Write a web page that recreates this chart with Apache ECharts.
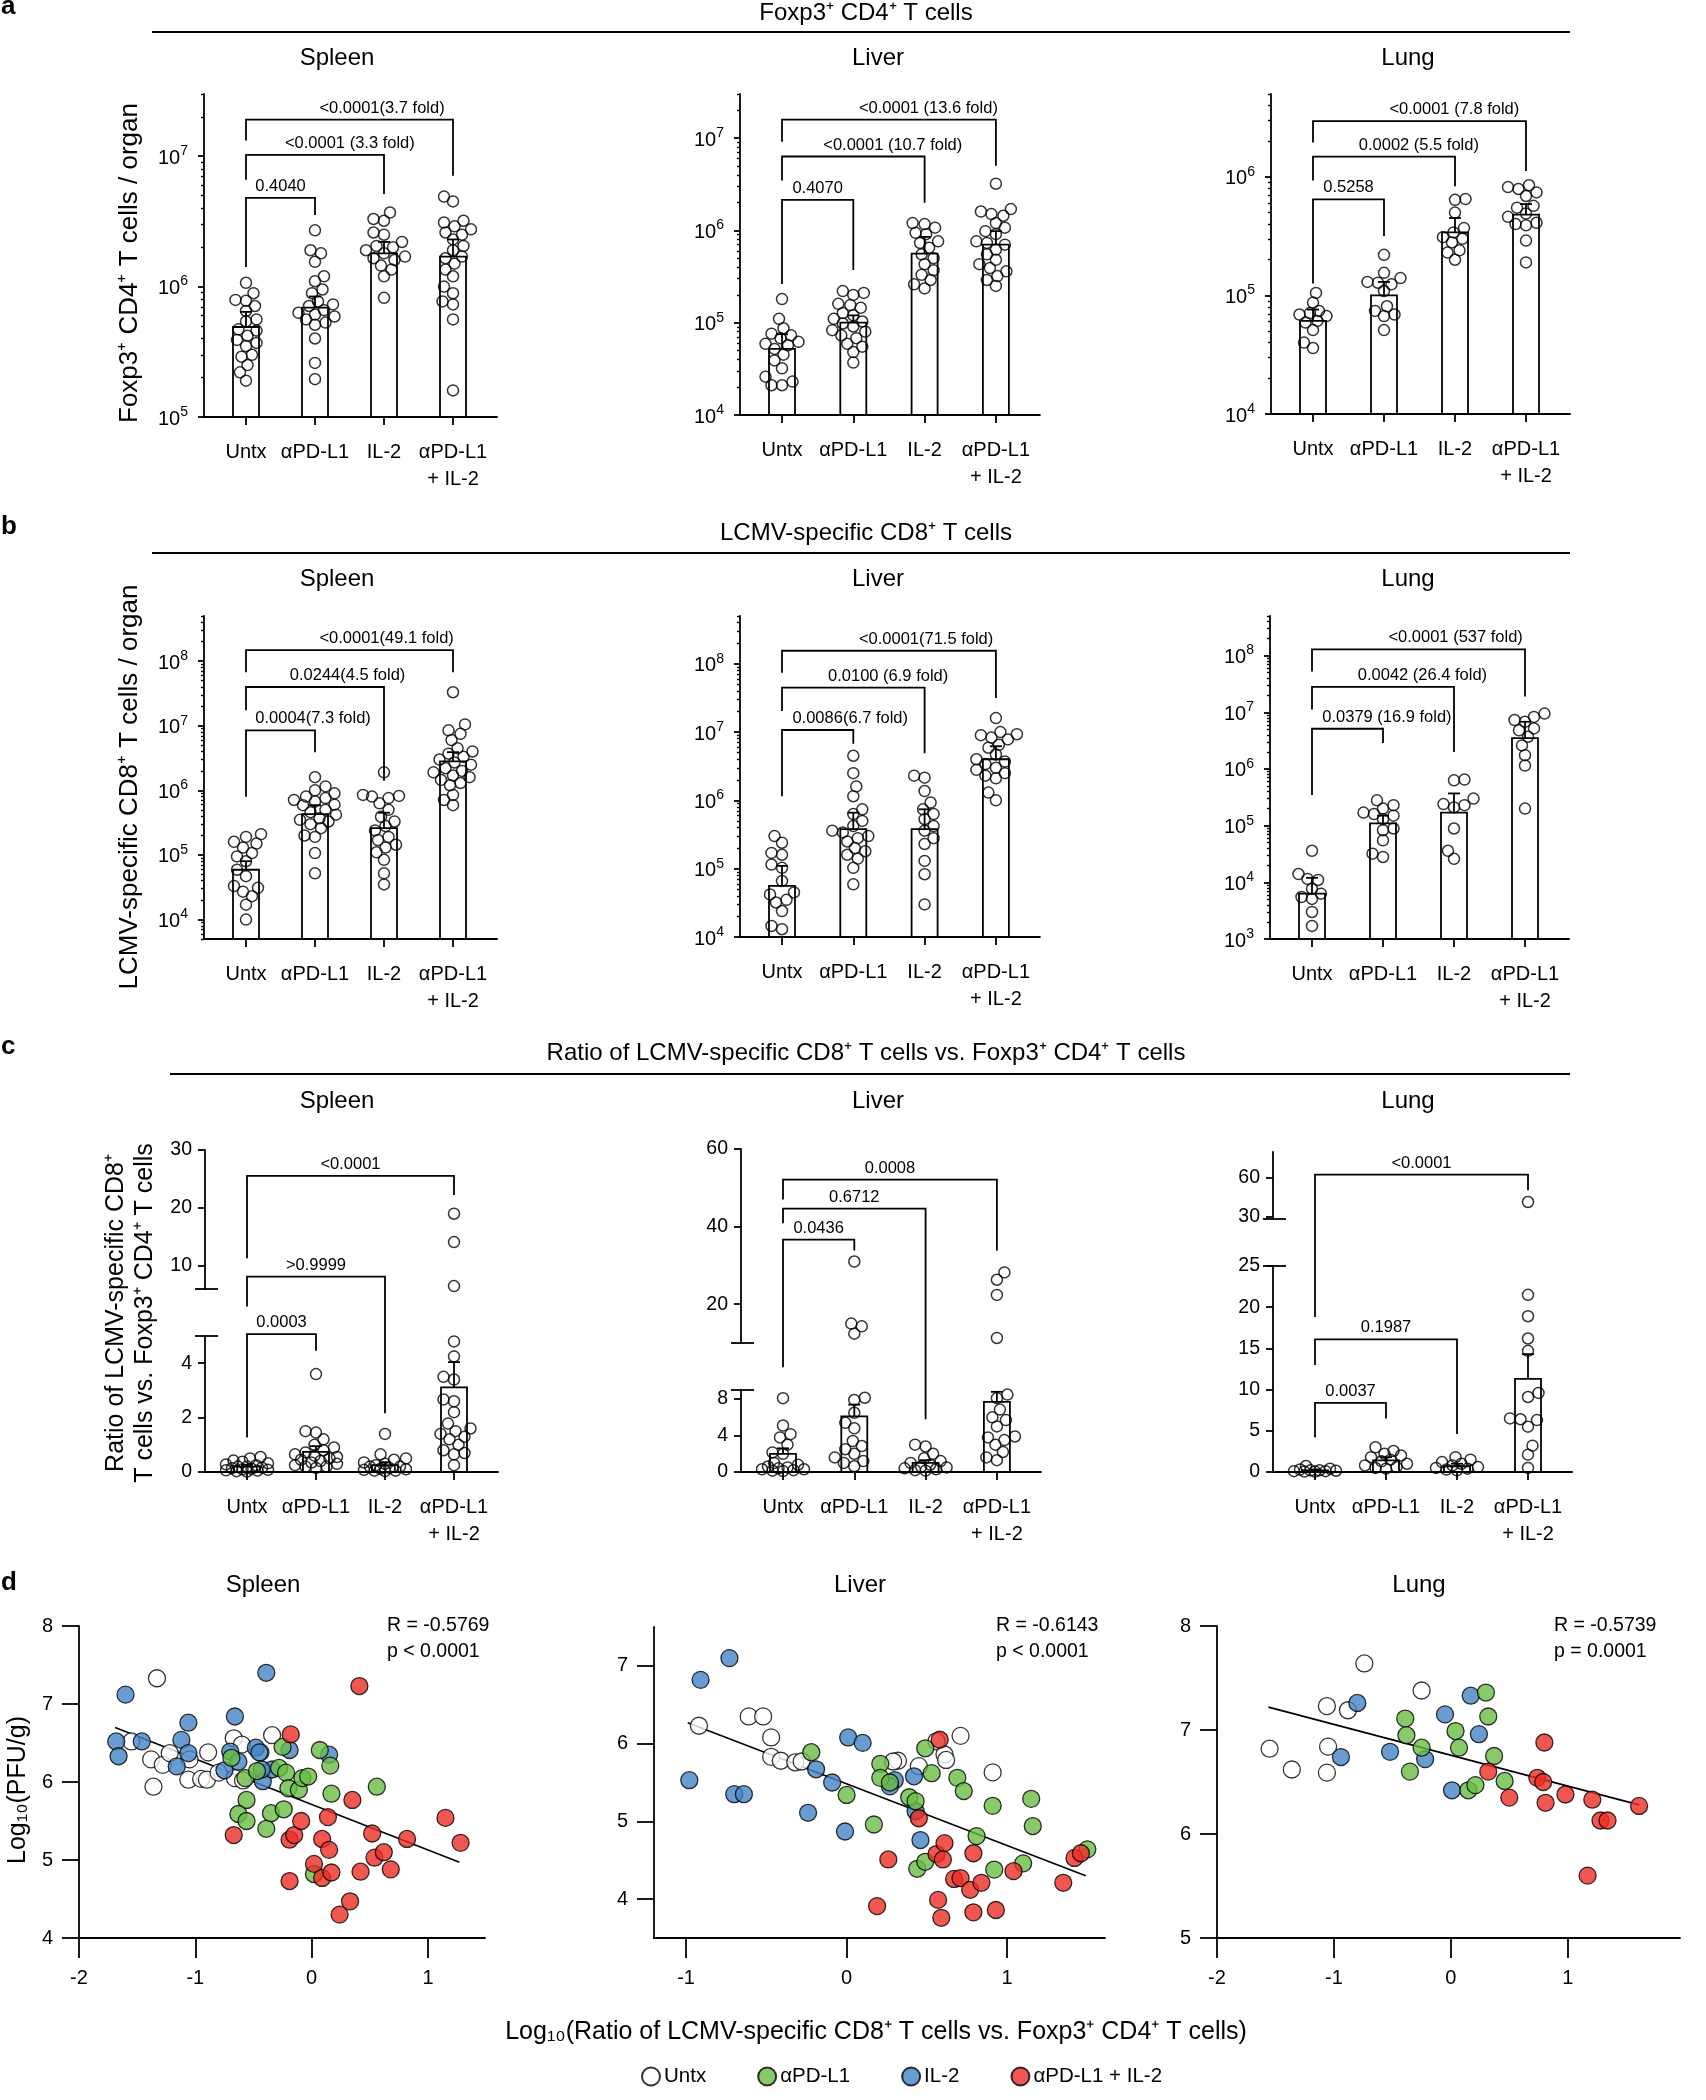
<!DOCTYPE html>
<html>
<head>
<meta charset="utf-8">
<script src="https://cdn.jsdelivr.net/npm/echarts@6/dist/echarts.min.js"></script>
<style>
  html, body { margin: 0; background: #fff; }
  #chart { width: 1706px; height: 2100px; }
</style>
</head>
<body>
<div id="chart"></div>
<script>
// ---------- data ----------
const groups = ['Untx', 'αPD-L1', 'IL-2', 'αPD-L1\n+ IL-2'];
const setNames = ['Untx', 'IL-2', 'αPD-L1', 'αPD-L1 + IL-2'];

// a: Foxp3+ CD4+ T cells / organ
const aSpleen = [
  [1.07e6, 8.9e5, 7.9e5, 7.8e5, 7.1e5, 6.5e5, 5.6e5, 5.4e5, 4.7e5, 4.6e5, 4.2e5, 3.9e5, 3.7e5, 3.5e5, 3.0e5, 2.9e5, 2.5e5, 2.2e5, 1.9e5],
  [2.7e6, 1.9e6, 1.8e6, 1.55e6, 1.2e6, 1.1e6, 9.5e5, 8.9e5, 7.7e5, 7.3e5, 7.1e5, 6.6e5, 6.3e5, 6.1e5, 5.9e5, 5.6e5, 5.3e5, 5.1e5, 4.0e5, 2.6e5, 1.95e5],
  [3.7e6, 3.3e6, 3.2e6, 2.6e6, 2.5e6, 2.2e6, 2.05e6, 2.0e6, 1.9e6, 1.8e6, 1.7e6, 1.65e6, 1.6e6, 1.45e6, 1.35e6, 1.2e6, 8.2e5],
  [4.9e6, 4.5e6, 3.2e6, 3.1e6, 2.9e6, 2.75e6, 2.6e6, 2.5e6, 2.3e6, 2.05e6, 1.9e6, 1.7e6, 1.65e6, 1.5e6, 1.35e6, 1.2e6, 1.0e6, 8.9e5, 7.7e5, 7.3e5, 5.6e5, 1.6e5]
];
const aSpleenMean = [4.9e5, 6.9e5, 1.8e6, 1.7e6];
const aSpleenErr = [6.4e5, 8.4e5, 2.2e6, 2.3e6];

const aLiver = [
  [1.8e5, 1.1e5, 8.7e4, 7.6e4, 7.3e4, 6.8e4, 6.2e4, 5.9e4, 5.7e4, 5.2e4, 4.5e4, 3.9e4, 3.2e4, 2.6e4, 2.3e4, 2.1e4, 2.1e4],
  [2.2e5, 2.1e5, 2.0e5, 1.6e5, 1.55e5, 1.45e5, 1.27e5, 1.2e5, 1.1e5, 1.03e5, 9.8e4, 9.1e4, 8.3e4, 8.0e4, 7.3e4, 6.8e4, 5.9e4, 5.5e4, 4.8e4, 3.7e4],
  [1.2e6, 1.17e6, 1.07e6, 9.4e5, 9.1e5, 7.6e5, 7.3e5, 6.5e5, 5.5e5, 5.0e5, 4.3e5, 3.7e5, 3.3e5, 2.9e5, 2.6e5, 2.35e5],
  [3.2e6, 1.7e6, 1.6e6, 1.5e6, 1.44e6, 1.2e6, 1.07e6, 9.8e5, 9.1e5, 7.6e5, 7.3e5, 7.0e5, 6.2e5, 5.5e5, 4.8e5, 4.3e5, 3.9e5, 3.6e5, 3.2e5, 2.9e5, 2.5e5]
];
const aLiverMean = [5.2e4, 1.0e5, 5.6e5, 7.0e5];
const aLiverErr = [7.5e4, 1.2e5, 8.5e5, 9.8e5];

const aLung = [
  [1.05e5, 8.7e4, 7.4e4, 7.1e4, 6.9e4, 6.7e4, 6.1e4, 5.9e4, 5.1e4, 4.0e4, 3.6e4],
  [2.2e5, 1.55e5, 1.4e5, 1.3e5, 1.28e5, 1.24e5, 1.09e5, 8.1e4, 7.4e4, 6.9e4, 6.7e4, 5.1e4],
  [6.5e5, 6.4e5, 5.0e5, 3.7e5, 3.4e5, 3.1e5, 3.0e5, 2.8e5, 2.4e5, 2.3e5, 2.0e5],
  [8.5e5, 8.2e5, 7.9e5, 7.4e5, 6.9e5, 5.7e5, 5.5e5, 4.9e5, 4.6e5, 4.1e5, 4.0e5, 3.9e5, 2.9e5, 1.9e5]
];
const aLungMean = [6.1e4, 1.0e5, 3.4e5, 4.8e5];
const aLungErr = [7.6e4, 1.3e5, 4.5e5, 5.9e5];

// b: LCMV-specific CD8+ T cells / organ
const bSpleen = [
  [2.1e5, 1.9e5, 1.6e5, 1.5e5, 1.3e5, 1.07e5, 9.5e4, 8.0e4, 5.9e4, 4.7e4, 3.3e4, 3.1e4, 2.7e4, 2.3e4, 1.7e4, 1.0e4],
  [1.6e6, 1.15e6, 1.0e6, 9.0e5, 8.0e5, 7.6e5, 7.1e5, 6.7e5, 6.0e5, 5.9e5, 5.0e5, 4.6e5, 4.2e5, 3.7e5, 3.5e5, 3.3e5, 3.0e5, 2.6e5, 2.0e5, 1.9e5, 1.07e5, 5.2e4],
  [1.9e6, 8.5e5, 8.2e5, 8.0e5, 7.6e5, 6.3e5, 5.0e5, 3.9e5, 3.3e5, 2.8e5, 2.4e5, 1.9e5, 1.7e5, 1.44e5, 1.3e5, 1.1e5, 8.4e4, 5.2e4, 3.5e4],
  [3.3e7, 1.05e7, 8.5e6, 7.5e6, 6.0e6, 4.5e6, 4.0e6, 3.7e6, 3.3e6, 3.0e6, 2.7e6, 2.5e6, 2.2e6, 2.0e6, 1.9e6, 1.7e6, 1.6e6, 1.45e6, 1.3e6, 1.2e6, 8.5e5, 7.1e5, 5.9e5]
];
const bSpleenMean = [5.9e4, 4.3e5, 2.6e5, 2.8e6];
const bSpleenErr = [8.0e4, 5.9e5, 4.5e5, 3.9e6];

const bLiver = [
  [3.0e5, 2.4e5, 1.7e5, 1.6e5, 1.15e5, 1.03e5, 6.6e4, 4.5e4, 4.2e4, 3.5e4, 3.2e4, 2.4e4, 1.45e4, 1.3e4],
  [4.5e6, 2.5e6, 1.6e6, 1.15e6, 7.4e5, 6.3e5, 5.0e5, 4.2e5, 3.6e5, 3.4e5, 3.0e5, 2.8e5, 2.5e5, 2.0e5, 1.8e5, 1.6e5, 1.4e5, 1.03e5, 5.9e4],
  [2.3e6, 2.15e6, 1.37e6, 9.3e5, 7.4e5, 6.3e5, 5.3e5, 4.2e5, 3.6e5, 2.8e5, 2.3e5, 1.3e5, 8.3e4, 3.0e4],
  [1.6e7, 1.0e7, 9.3e6, 9.0e6, 8.3e6, 7.8e6, 6.5e6, 5.9e6, 4.7e6, 4.0e6, 3.7e6, 3.4e6, 3.0e6, 2.8e6, 2.5e6, 2.3e6, 2.1e6, 1.3e6, 1.0e6]
];
const bLiverMean = [5.6e4, 3.8e5, 3.8e5, 4.0e6];
const bLiverErr = [1.1e5, 6.6e5, 7.4e5, 6.2e6];

const bLung = [
  [3.6e4, 1.4e4, 1.15e4, 1.1e4, 7.7e3, 6.3e3, 5.5e3, 5.1e3, 3.0e3, 1.7e3],
  [2.8e5, 2.3e5, 2.0e5, 1.7e5, 1.6e5, 1.5e5, 1.3e5, 8.9e4, 8.3e4, 5.5e4, 3.2e4, 2.8e4],
  [6.5e5, 6.3e5, 3.0e5, 2.4e5, 2.3e5, 2.1e5, 8.9e4, 3.6e4, 2.6e4],
  [9.5e6, 8.3e6, 7.3e6, 6.8e6, 5.2e6, 4.8e6, 3.7e6, 2.6e6, 1.75e6, 1.15e6, 2.0e5]
];
const bLungMean = [6.3e3, 1.1e5, 1.7e5, 3.5e6];
const bLungErr = [1.2e4, 1.5e5, 3.7e5, 6.8e6];

// c: ratio CD8 / Treg
const cSpleen = [
  [0.55, 0.5, 0.42, 0.38, 0.32, 0.28, 0.25, 0.2, 0.2, 0.16, 0.14, 0.12, 0.1, 0.08, 0.06, 0.05, 0.03, 0.02],
  [3.6, 1.5, 1.45, 1.2, 1.0, 0.9, 0.8, 0.72, 0.65, 0.6, 0.55, 0.5, 0.45, 0.4, 0.35, 0.3, 0.25, 0.2, 0.2, 0.15],
  [1.4, 0.65, 0.5, 0.45, 0.35, 0.3, 0.25, 0.2, 0.2, 0.15, 0.12, 0.1, 0.08, 0.05, 0.05, 0.03],
  [19, 14.1, 6.5, 4.8, 4.25, 3.5, 3.4, 2.67, 2.6, 2.2, 1.78, 1.6, 1.5, 1.4, 1.3, 1.2, 1.0, 0.8, 0.7, 0.65, 0.25]
];
const cSpleenMean = [0.2, 0.74, 0.25, 3.11];
const cSpleenErr = [0.26, 0.95, 0.36, 4.04];

const cLiver = [
  [8.1, 5.1, 4.15, 3.8, 3.0, 2.15, 2.0, 1.0, 0.8, 0.6, 0.5, 0.4, 0.3, 0.3, 0.2, 0.15, 0.1],
  [31, 15.0, 14.3, 12.4, 8.15, 7.9, 6.5, 5.4, 4.8, 3.4, 2.85, 2.5, 2.0, 1.6, 1.2, 1.0, 0.63],
  [3.0, 2.8, 2.0, 1.5, 1.2, 1.0, 0.8, 0.6, 0.5, 0.4, 0.3, 0.2, 0.15],
  [28.2, 26.3, 22.4, 11.3, 8.5, 8.1, 6.85, 6.0, 5.7, 5.0, 3.9, 3.8, 3.5, 3.0, 2.2, 1.6, 1.3]
];
const cLiverMean = [2.0, 6.1, 1.0, 7.7];
const cLiverErr = [2.6, 7.4, 1.3, 8.8];

const cLung = [
  [0.73, 0.4, 0.3, 0.2, 0.2, 0.15, 0.1, 0.1, 0.05, 0.05],
  [3.0, 2.55, 2.2, 2.0, 1.8, 1.5, 1.3, 1.0, 0.8, 0.6, 0.5, 0.4],
  [1.8, 1.5, 1.2, 1.0, 0.8, 0.6, 0.5, 0.4, 0.3, 0.2],
  [41.2, 21.5, 18.9, 16.2, 14.7, 9.6, 9.1, 6.5, 6.4, 6.3, 5.5, 3.2, 2.1, 0.5]
];
const cLungMean = [0.2, 1.4, 0.7, 11.3];
const cLungErr = [0.3, 1.8, 1.0, 14.3];

// d: log10(PFU/g) vs log10(ratio)
const dSpleenUntx = [[-1.33,7.33],[-1.55,6.52],[-1.38,6.29],[-1.28,6.22],[-1.22,6.37],[-1.36,5.94],[-1.06,6.03],[-1.05,6.29],[-0.89,6.38],[-0.95,6.04],[-0.90,6.03],[-0.80,6.12],[-0.67,6.56],[-0.60,6.48],[-0.66,6.05],[-0.59,6.02],[-0.44,6.38],[-0.34,6.60]];
const dSpleenIL2 = [[-1.60,7.12],[-1.68,6.52],[-1.66,6.33],[-1.46,6.52],[-1.06,6.76],[-1.12,6.54],[-1.06,6.37],[-1.16,6.20],[-0.70,6.39],[-0.66,6.84],[-0.63,6.26],[-0.75,6.15],[-0.39,7.40],[-0.48,6.44],[-0.45,6.38],[-0.42,6.01],[-0.34,6.16],[-0.43,6.16],[-0.19,6.41],[0.15,6.35]];
const dSpleenAPD = [[-0.69,6.31],[-0.57,6.05],[-0.56,5.77],[-0.63,5.59],[-0.56,5.50],[-0.47,6.14],[-0.35,5.60],[-0.39,5.40],[-0.25,6.45],[-0.28,6.18],[-0.22,6.12],[-0.20,5.92],[-0.24,5.65],[-0.11,5.90],[-0.08,6.05],[-0.03,6.07],[0.07,6.41],[0.16,6.21],[0.17,5.85],[0.56,5.94],[0.02,4.82]];
const dSpleenCombo = [[-0.67,5.32],[-0.18,6.61],[-0.19,5.26],[-0.15,5.32],[-0.09,5.50],[-0.19,4.73],[0.02,4.95],[0.09,5.27],[0.09,4.77],[0.15,5.13],[0.17,4.84],[0.14,5.55],[0.35,5.77],[0.41,7.23],[0.42,4.85],[0.33,4.47],[0.24,4.30],[0.52,5.34],[0.54,5.03],[0.62,5.10],[0.68,4.88],[0.82,5.27],[1.15,5.54],[1.28,5.22]];
const dSpleenFit = [[-1.69, 6.70], [1.27, 4.97]];

const dLiverUntx = [[-0.92,6.23],[-0.61,6.35],[-0.52,6.35],[-0.47,6.08],[-0.47,5.83],[-0.41,5.78],[-0.32,5.76],[-0.28,5.77],[0.32,5.78],[0.29,5.77],[0.45,5.71],[0.56,6.03],[0.61,5.86],[0.62,5.79],[0.71,6.10],[0.91,5.63]];
const dLiverIL2 = [[-0.73,7.10],[-0.91,6.82],[-0.98,5.53],[-0.70,5.35],[-0.64,5.35],[-0.24,5.11],[-0.19,5.67],[-0.09,5.50],[0.01,6.08],[0.10,6.01],[-0.01,4.87],[0.30,5.53],[0.27,5.45],[0.42,5.58],[0.43,5.13],[0.46,4.76]];
const dLiverAPD = [[-0.22,5.89],[0.00,5.34],[0.21,5.74],[0.21,5.56],[0.27,5.50],[0.17,4.96],[0.39,5.31],[0.43,5.26],[0.49,5.94],[0.53,5.62],[0.69,5.56],[0.73,5.39],[0.91,5.20],[0.81,4.81],[0.44,4.39],[0.49,4.48],[0.92,4.38],[1.10,4.46],[1.15,5.29],[1.16,4.94],[1.50,4.64]];
const dLiverCombo = [[0.58,6.05],[0.45,5.04],[0.26,4.51],[0.19,3.91],[0.56,4.58],[0.61,4.72],[0.60,4.51],[0.57,3.99],[0.59,3.76],[0.67,4.26],[0.71,4.27],[0.77,4.12],[0.79,4.59],[0.84,4.21],[0.79,3.83],[0.93,3.86],[1.04,4.36],[1.35,4.21],[1.42,4.53],[1.46,4.59]];
const dLiverFit = [[-0.99, 6.27], [1.49, 4.30]];

const dLungUntx = [[-0.74,7.64],[-0.25,7.38],[-1.06,7.23],[-0.88,7.19],[-1.55,6.82],[-1.36,6.62],[-1.05,6.84],[-1.06,6.59]];
const dLungIL2 = [[-0.80,7.26],[-0.94,6.74],[-0.52,6.79],[-0.22,6.72],[-0.05,7.15],[0.17,7.33],[0.24,6.96],[0.01,6.42]];
const dLungAPD = [[-0.39,7.11],[-0.38,6.95],[-0.25,6.83],[-0.35,6.60],[0.04,6.99],[0.07,6.83],[0.30,7.36],[0.32,7.13],[0.37,6.75],[0.15,6.42],[0.21,6.47],[0.46,6.51]];
const dLungCombo = [[0.32,6.60],[0.50,6.35],[0.74,6.54],[0.79,6.50],[0.80,6.88],[0.81,6.30],[0.98,6.38],[1.21,6.33],[1.28,6.13],[1.34,6.13],[1.17,5.60],[1.61,6.27]];
const dLungFit = [[-1.56, 7.22], [1.61, 6.28]];

// ---------- annotations (significance brackets) ----------
// log panels: levels in log10 units; c panels: in units of the lower axis segment
const aSpleenBr = [
  {i: 0, j: 1, y: 6.68, l: 6.15, r: 6.55, p: '0.4040', f: ''},
  {i: 0, j: 2, y: 7.01, l: 6.82, r: 6.71, p: '<0.0001', f: ' (3.3 fold)'},
  {i: 0, j: 3, y: 7.28, l: 7.12, r: 6.85, p: '<0.0001', f: '(3.7 fold)'}
];
const aLiverBr = [
  {i: 0, j: 1, y: 6.33, l: 5.42, r: 5.57, p: '0.4070', f: ''},
  {i: 0, j: 2, y: 6.80, l: 6.54, r: 6.30, p: '<0.0001', f: ' (10.7 fold)'},
  {i: 0, j: 3, y: 7.20, l: 6.96, r: 6.70, p: '<0.0001', f: ' (13.6 fold)'}
];
const aLungBr = [
  {i: 0, j: 1, y: 5.81, l: 5.10, r: 5.50, p: '0.5258', f: ''},
  {i: 0, j: 2, y: 6.17, l: 5.97, r: 5.92, p: '0.0002', f: ' (5.5 fold)'},
  {i: 0, j: 3, y: 6.47, l: 6.29, r: 6.05, p: '<0.0001', f: ' (7.8 fold)'}
];
const bSpleenBr = [
  {i: 0, j: 1, y: 6.93, l: 5.90, r: 6.59, p: '0.0004', f: '(7.3 fold)'},
  {i: 0, j: 2, y: 7.60, l: 7.24, r: 6.15, p: '0.0244', f: '(4.5 fold)'},
  {i: 0, j: 3, y: 8.17, l: 7.83, r: 7.83, p: '<0.0001', f: '(49.1 fold)'}
];
const bLiverBr = [
  {i: 0, j: 1, y: 7.03, l: 6.06, r: 6.83, p: '0.0086', f: '(6.7 fold)'},
  {i: 0, j: 2, y: 7.65, l: 7.31, r: 6.69, p: '0.0100', f: ' (6.9 fold)'},
  {i: 0, j: 3, y: 8.19, l: 7.87, r: 7.50, p: '<0.0001', f: '(71.5 fold)'}
];
const bLungBr = [
  {i: 0, j: 1, y: 6.71, l: 5.54, r: 6.46, p: '0.0379', f: ' (16.9 fold)'},
  {i: 0, j: 2, y: 7.45, l: 7.05, r: 6.30, p: '0.0042', f: ' (26.4 fold)'},
  {i: 0, j: 3, y: 8.11, l: 7.72, r: 7.28, p: '<0.0001', f: ' (537 fold)'}
];
const cSpleenBr = [
  {i: 0, j: 1, y: 5.07, l: 1.27, r: 4.46, p: '0.0003', f: ''},
  {i: 0, j: 2, y: 7.18, l: 6.08, r: 2.16, p: '>0.9999', f: ''},
  {i: 0, j: 3, y: 10.89, l: 7.86, r: 10.18, p: '<0.0001', f: ''}
];
const cLiverBr = [
  {i: 0, j: 1, y: 25.5, l: 11.5, r: 24.3, p: '0.0436', f: ''},
  {i: 0, j: 2, y: 28.9, l: 27.3, r: 5.8, p: '0.6712', f: ''},
  {i: 0, j: 3, y: 32.1, l: 29.9, r: 24.3, p: '0.0008', f: ''}
];
const cLungBr = [
  {i: 0, j: 1, y: 8.4, l: 4.2, r: 6.5, p: '0.0037', f: ''},
  {i: 0, j: 2, y: 16.1, l: 13.0, r: 4.6, p: '0.1987', f: ''},
  {i: 0, j: 3, y: 36.1, l: 18.8, r: 34.2, p: '<0.0001', f: ''}
];

// ---------- drawing ----------
const FONT = 'Arial, "Liberation Sans", Helvetica, sans-serif';
const LW = 1.8;
const BLACK = '#000';
const setColors = ['#ffffff', '#4385c6', '#6abd45', '#ec2d24'];

const option = {
  animation: false,
  backgroundColor: '#fff',
  textStyle: {fontFamily: FONT, color: BLACK},
  grid: [], xAxis: [], yAxis: [], series: [], graphic: [],
  legend: {
    left: 636, top: 2061, itemWidth: 18, itemHeight: 18, itemGap: 51, icon: 'circle',
    selectedMode: false,
    textStyle: {fontSize: 20.5, color: BLACK, fontFamily: FONT, padding: [0, 0, 0, -1]},
    data: ['Untx', 'αPD-L1', 'IL-2', 'αPD-L1 + IL-2']
  }
};
const G = option.graphic;

const measureCtx = document.createElement('canvas').getContext('2d');
function textW(t, size) {
  measureCtx.font = size + 'px ' + FONT;
  return measureCtx.measureText(t).width;
}

function text(str, x, y, size, o = {}) {
  G.push({
    type: 'text', x, y, rotation: o.rot || 0, silent: true,
    style: {
      text: str, fill: BLACK, font: (o.bold ? 'bold ' : '') + size + 'px ' + FONT,
      textAlign: o.align || 'center', textVerticalAlign: o.valign || 'middle',
      align: o.align || 'center', verticalAlign: o.valign || 'middle',
      lineHeight: o.lh
    }
  });
}
function rule(x1, y1, x2, y2) {
  G.push({type: 'line', silent: true, shape: {x1, y1, x2, y2}, style: {stroke: BLACK, lineWidth: LW}});
}
function minorTicks(min, max) {
  const out = [];
  for (let e = Math.floor(Math.log10(min)); e <= Math.ceil(Math.log10(max)); e++) {
    for (let m = 2; m <= 9; m++) {
      const v = m * Math.pow(10, e);
      if (v >= min * 0.999 && v <= max * 1.001) out.push(v);
    }
  }
  return out;
}
// simple beeswarm: pixel x offsets so circles do not pile up
function swarm(vals, toPx, dia, maxOff) {
  const order = vals.map((v, i) => i).sort((a, b) => toPx(vals[b]) - toPx(vals[a]));
  const placed = [], off = [];
  order.forEach((i, n) => {
    const y = toPx(vals[i]);
    const sgn = n % 2 ? -1 : 1;
    let best = 0, bestD = -1;
    for (let k = 0; k <= maxOff; k += 1.5) {
      for (const c of (k === 0 ? [0] : [sgn * k, -sgn * k])) {
        let d = Infinity;
        placed.forEach(p => { d = Math.min(d, Math.hypot(p[0] - c, p[1] - y)); });
        if (d >= dia) { off[i] = c; placed.push([c, y]); return; }
        if (d > bestD) { bestD = d; best = c; }
      }
    }
    off[i] = best; placed.push([best, y]);
  });
  return off;
}

const axisLineStyle = {color: BLACK, width: LW};

function dotPanel(P) {
  const xMin = -42 / P.sp, xMax = 3 + 44 / P.sp;
  const W = (xMax - xMin) * P.sp;
  const segs = P.segs;
  const segOf = v => {
    for (let k = 0; k < segs.length; k++) if (v <= segs[k].max) return k;
    return segs.length - 1;
  };
  const toPx = v => {
    const s = segs[segOf(v)];
    const f = s.log ? Math.log10(v / s.min) / Math.log10(s.max / s.min) : (v - s.min) / (s.max - s.min);
    return s.bottom - f * (s.bottom - s.top);
  };
  const ax = segs.map((s, k) => {
    const gi = option.grid.length;
    option.grid.push({left: P.ax, top: s.top, width: W, height: s.bottom - s.top, outerBoundsMode: 'none'});
    const xi = option.xAxis.length;
    option.xAxis.push({
      gridIndex: gi, type: 'value', min: xMin, max: xMax, show: k === 0,
      axisLine: {onZero: false, lineStyle: axisLineStyle},
      axisTick: {customValues: [0, 1, 2, 3], length: 8, lineStyle: axisLineStyle},
      axisLabel: {customValues: [0, 1, 2, 3], formatter: v => groups[Math.round(v)],
        margin: 22, fontSize: 20, lineHeight: 27, color: BLACK, fontFamily: FONT},
      splitLine: {show: false}
    });
    const yi = option.yAxis.length;
    const lab = s.log ? {
      customValues: s.ticks, margin: 16,
      formatter: v => '{b|10}{s|' + Math.round(Math.log10(v)) + '}',
      rich: {
        b: {fontSize: 20, lineHeight: 24, verticalAlign: 'bottom', color: BLACK, fontFamily: FONT},
        s: {fontSize: 14, lineHeight: 14, verticalAlign: 'top', color: BLACK, fontFamily: FONT}
      }
    } : {customValues: s.ticks, margin: 13, fontSize: 19.5, color: BLACK, fontFamily: FONT};
    option.yAxis.push({
      gridIndex: gi, type: s.log ? 'log' : 'value', min: s.min, max: s.max, position: 'left',
      axisLine: {show: true, onZero: false, lineStyle: axisLineStyle},
      axisTick: {customValues: s.ticks, length: s.log ? 6 : 7, lineStyle: axisLineStyle},
      axisLabel: lab,
      splitLine: {show: false}
    });
    if (s.log) {
      // second axis only for the short minor ticks (2..9 x 10^n)
      option.yAxis.push({
        gridIndex: gi, type: 'log', min: s.min, max: s.max, position: 'left', offset: 0,
        axisLine: {show: false, onZero: false}, axisLabel: {show: false},
        axisTick: {customValues: minorTicks(s.min, s.max), length: 3, lineStyle: {color: BLACK, width: 1.4}},
        splitLine: {show: false}
      });
    }
    return {xi, yi};
  });
  const s0 = segs[0];
  const yv = e => s0.log ? Math.pow(10, e) : e;

  // bars + error caps
  option.series.push({
    type: 'custom', xAxisIndex: ax[0].xi, yAxisIndex: ax[0].yi, z: 2, silent: true,
    encode: {x: 0, y: 1},
    data: P.mean.map((m, i) => [i, m, P.err[i]]),
    renderItem: (params, api) => {
      const x = api.value(0);
      const top = api.coord([x, api.value(1)]);
      const base = api.coord([x, s0.min]);
      const et = api.coord([x, api.value(2)]);
      const w = 26;
      return {type: 'group', children: [
        {type: 'rect', shape: {x: top[0] - w / 2, y: top[1], width: w, height: base[1] - top[1]},
          style: {fill: '#fff', stroke: BLACK, lineWidth: LW}},
        {type: 'line', shape: {x1: top[0], y1: top[1], x2: top[0], y2: et[1]}, style: {stroke: BLACK, lineWidth: LW}},
        {type: 'line', shape: {x1: top[0] - 6, y1: et[1], x2: top[0] + 6, y2: et[1]}, style: {stroke: BLACK, lineWidth: LW}}
      ]};
    }
  });

  // points
  const pts = segs.map(() => []);
  P.data.forEach((vals, g) => {
    const off = swarm(vals, toPx, 10, 21);
    vals.forEach((v, k) => pts[segOf(v)].push([g + off[k] / P.sp, v]));
  });
  ax.forEach((a, k) => option.series.push({
    type: 'scatter', xAxisIndex: a.xi, yAxisIndex: a.yi, data: pts[k], z: 3, silent: true,
    symbol: 'circle', symbolSize: 11,
    itemStyle: {color: 'rgba(255,255,255,0)', borderColor: BLACK, borderWidth: 1.5}
  }));

  // brackets
  option.series.push({
    type: 'custom', xAxisIndex: ax[0].xi, yAxisIndex: ax[0].yi, z: 4, silent: true,
    encode: {x: 0, y: 1},
    data: P.br.map(b => [b.i, yv(b.y)]),
    renderItem: (params, api) => {
      const b = P.br[params.dataIndex];
      const L = api.coord([b.i, yv(b.l)]), A = api.coord([b.i, yv(b.y)]);
      const B = api.coord([b.j, yv(b.y)]), R = api.coord([b.j, yv(b.r)]);
      const cx = (A[0] + B[0]) / 2;
      const tx = cx - textW(b.p, 16.5) / 2;
      return {type: 'group', children: [
        {type: 'polyline', shape: {points: [L, A, B, R]}, style: {stroke: BLACK, lineWidth: LW, fill: null}},
        {type: 'text', x: tx, y: A[1] - 3, style: {
          text: b.p + b.f, fill: BLACK, font: '16.5px ' + FONT,
          textAlign: 'left', textVerticalAlign: 'bottom', align: 'left', verticalAlign: 'bottom'}}
      ]};
    }
  });

  // axis break marks
  if (segs.length > 1) {
    rule(P.ax - 10, segs[1].bottom, P.ax + 13, segs[1].bottom);
    rule(P.ax - 10, segs[0].top, P.ax + 13, segs[0].top);
  }
}

function scatterPanel(P) {
  const gi = option.grid.length;
  option.grid.push({left: P.left, top: P.top, width: P.right - P.left, height: P.bottom - P.top, outerBoundsMode: 'none'});
  const xi = option.xAxis.length, yi = option.yAxis.length;
  option.xAxis.push({
    gridIndex: gi, type: 'value', min: P.x[0], max: P.x[1],
    axisLine: {onZero: false, lineStyle: axisLineStyle},
    axisTick: {customValues: P.xt, length: 20, lineStyle: axisLineStyle},
    axisLabel: {customValues: P.xt, margin: 30, fontSize: 20, color: BLACK, fontFamily: FONT},
    splitLine: {show: false}
  });
  option.yAxis.push({
    gridIndex: gi, type: 'value', min: P.y[0], max: P.y[1], position: 'left',
    axisLine: {show: true, onZero: false, lineStyle: axisLineStyle},
    axisTick: {customValues: P.yt, length: 17, lineStyle: axisLineStyle},
    axisLabel: {customValues: P.yt, margin: 26, fontSize: 20, color: BLACK, fontFamily: FONT},
    splitLine: {show: false}
  });
  option.series.push({
    type: 'line', xAxisIndex: xi, yAxisIndex: yi, data: P.fit, symbol: 'none', showSymbol: false,
    lineStyle: {color: BLACK, width: 1.6}, z: 2, silent: true
  });
  P.sets.forEach((d, k) => option.series.push({
    type: 'scatter', name: setNames[k], xAxisIndex: xi, yAxisIndex: yi, data: d, z: 3, silent: true,
    symbol: 'circle', symbolSize: 17,
    itemStyle: {color: setColors[k], borderColor: BLACK, borderWidth: 1.3}
  }));
  text(P.r, P.rx, 1626, 19.5, {align: 'left'});
  text(P.p, P.rx, 1652, 19.5, {align: 'left'});
}

// ----- panel a -----
dotPanel({data: aSpleen, mean: aSpleenMean, err: aSpleenErr, br: aSpleenBr, ax: 204, sp: 69,
  segs: [{top: 94, bottom: 417, min: 1e5, max: 3e7, log: true, ticks: [1e5, 1e6, 1e7]}]});
dotPanel({data: aLiver, mean: aLiverMean, err: aLiverErr, br: aLiverBr, ax: 740, sp: 71.3,
  segs: [{top: 94, bottom: 415, min: 1e4, max: 3e7, log: true, ticks: [1e4, 1e5, 1e6, 1e7]}]});
dotPanel({data: aLung, mean: aLungMean, err: aLungErr, br: aLungBr, ax: 1271, sp: 71,
  segs: [{top: 94, bottom: 414, min: 1e4, max: 5e6, log: true, ticks: [1e4, 1e5, 1e6]}]});

// ----- panel b -----
dotPanel({data: bSpleen, mean: bSpleenMean, err: bSpleenErr, br: bSpleenBr, ax: 204, sp: 69,
  segs: [{top: 616, bottom: 939, min: 5e3, max: 5e8, log: true, ticks: [1e4, 1e5, 1e6, 1e7, 1e8]}]});
dotPanel({data: bLiver, mean: bLiverMean, err: bLiverErr, br: bLiverBr, ax: 740, sp: 71.3,
  segs: [{top: 616, bottom: 937, min: 1e4, max: 5e8, log: true, ticks: [1e4, 1e5, 1e6, 1e7, 1e8]}]});
dotPanel({data: bLung, mean: bLungMean, err: bLungErr, br: bLungBr, ax: 1270, sp: 71,
  segs: [{top: 616, bottom: 939, min: 1e3, max: 5e8, log: true, ticks: [1e3, 1e4, 1e5, 1e6, 1e7, 1e8]}]});

// ----- panel c (broken axes) -----
dotPanel({data: cSpleen, mean: cSpleenMean, err: cSpleenErr, br: cSpleenBr, ax: 205, sp: 69,
  segs: [{top: 1336, bottom: 1472, min: 0, max: 5, ticks: [0, 2, 4]},
         {top: 1150, bottom: 1289, min: 6, max: 30, ticks: [10, 20, 30]}]});
dotPanel({data: cLiver, mean: cLiverMean, err: cLiverErr, br: cLiverBr, ax: 741, sp: 71.3,
  segs: [{top: 1390, bottom: 1472, min: 0, max: 9, ticks: [0, 4, 8]},
         {top: 1149, bottom: 1343, min: 10, max: 60, ticks: [20, 40, 60]}]});
dotPanel({data: cLung, mean: cLungMean, err: cLungErr, br: cLungBr, ax: 1273, sp: 71,
  segs: [{top: 1266, bottom: 1472, min: 0, max: 25, ticks: [0, 5, 10, 15, 20, 25]},
         {top: 1152, bottom: 1219, min: 28, max: 80, ticks: [30, 60]}]});

// ----- panel d -----
scatterPanel({left: 79, top: 1626, right: 485, bottom: 1938, x: [-2, 1.49], y: [4, 8],
  xt: [-2, -1, 0, 1], yt: [4, 5, 6, 7, 8], fit: dSpleenFit,
  sets: [dSpleenUntx, dSpleenIL2, dSpleenAPD, dSpleenCombo], r: 'R = -0.5769', p: 'p < 0.0001', rx: 387});
scatterPanel({left: 654, top: 1627, right: 1105, bottom: 1938, x: [-1.2, 1.61], y: [3.5, 7.5],
  xt: [-1, 0, 1], yt: [4, 5, 6, 7], fit: dLiverFit,
  sets: [dLiverUntx, dLiverIL2, dLiverAPD, dLiverCombo], r: 'R = -0.6143', p: 'p < 0.0001', rx: 996});
scatterPanel({left: 1217, top: 1626, right: 1680, bottom: 1938, x: [-2, 1.96], y: [5, 8],
  xt: [-2, -1, 0, 1], yt: [5, 6, 7, 8], fit: dLungFit,
  sets: [dLungUntx, dLungIL2, dLungAPD, dLungCombo], r: 'R = -0.5739', p: 'p = 0.0001', rx: 1554});

// ----- titles, rules, letters -----
text('a', 1, 7, 26, {bold: true, align: 'left'});
text('b', 1, 527, 26, {bold: true, align: 'left'});
text('c', 1, 1047, 26, {bold: true, align: 'left'});
text('d', 1, 1583, 26, {bold: true, align: 'left'});

text('Foxp3⁺ CD4⁺ T cells', 866, 13, 24);
rule(152, 32, 1570, 32);
text('LCMV-specific CD8⁺ T cells', 866, 533, 24);
rule(152, 553, 1570, 553);
text('Ratio of LCMV-specific CD8⁺ T cells vs. Foxp3⁺ CD4⁺ T cells', 866, 1053, 24);
rule(170, 1074, 1570, 1074);

const organs = ['Spleen', 'Liver', 'Lung'];
[337, 878, 1408].forEach((x, k) => {
  text(organs[k], x, 58, 24);
  text(organs[k], x, 579, 24);
  text(organs[k], x, 1101, 24);
});
[263, 860, 1419].forEach((x, k) => text(organs[k], x, 1585, 24));

text('Foxp3⁺ CD4⁺ T cells / organ', 130, 263, 26, {rot: Math.PI / 2});
text('LCMV-specific CD8⁺ T cells / organ', 130, 787, 26, {rot: Math.PI / 2});
text('Ratio of LCMV-specific CD8⁺\nT cells vs. Foxp3⁺ CD4⁺ T cells', 131, 1313, 25, {rot: Math.PI / 2, lh: 29});
text('Log₁₀(PFU/g)', 18, 1790, 25, {rot: Math.PI / 2});
text('Log₁₀(Ratio of LCMV-specific CD8⁺ T cells vs. Foxp3⁺ CD4⁺ T cells)', 876, 2032, 25);

const chart = echarts.init(document.getElementById('chart'), null, {renderer: 'canvas'});
chart.setOption(option);
</script>
</body>
</html>
